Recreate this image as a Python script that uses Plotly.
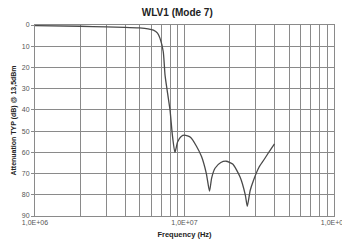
import plotly.graph_objects as go

freq_hz = [1.0e6, 2.0e6, 3.0e6, 4.0e6, 5.0e6, 5.7e6, 6.2e6, 6.6e6, 6.86e6, 7.21e6, 7.41e6,
           7.7e6, 8.0e6, 8.3e6, 8.63e6, 9.0e6, 9.5e6, 1.0e7, 1.1e7, 1.2e7, 1.3e7, 1.4e7,
           1.47e7, 1.52e7, 1.6e7, 1.75e7, 1.9e7, 2.1e7, 2.35e7, 2.55e7, 2.63e7, 2.75e7,
           2.9e7, 3.15e7, 3.4e7, 3.7e7, 4.0e7]
atten_db = [0.3, 0.6, 0.9, 1.1, 1.4, 1.8, 2.4, 3.8, 6.3, 12.6, 23.6,
            32.0, 40.0, 52.0, 60.0, 55.0, 52.5, 51.9, 53.0, 57.0, 62.0, 70.0,
            78.3, 72.0, 67.5, 64.8, 64.2, 65.5, 71.5, 80.0, 85.4, 78.0,
            73.0, 67.0, 63.5, 59.5, 56.0]

grid_freqs = [m * 10 ** e for e in (6, 7) for m in range(1, 10)] + [1e8]
grid_labels = ["1,0E+06" if f == 1e6 else "1,0E+07" if f == 1e7 else "1,0E+08" if f == 1e8 else ""
               for f in grid_freqs]
y_ticks = [0, 10, 20, 30, 40, 50, 60, 70, 80, 90]

fig = go.Figure()
fig.add_trace(go.Scatter(x=freq_hz, y=atten_db, mode="lines",
                         line=dict(color="#4a4a4a", width=1.3, shape="spline", smoothing=0.6),
                         showlegend=False))

font = "Liberation Sans, Arial, sans-serif"
# page body has an 8px default margin, so the figure is sized/offset to compensate
fig.update_layout(
    width=342, height=241,
    margin=dict(l=27, r=16, t=17, b=33),
    paper_bgcolor="white", plot_bgcolor="white",
    title=dict(text="<b>WLV1 (Mode 7)</b>", x=0.495, xanchor="center", y=0.983, yanchor="middle",
               font=dict(family=font, size=10, color="#222")),
    font=dict(family=font, size=8, color="#333"),
)
fig.update_xaxes(type="log", range=[6, 8], tickvals=grid_freqs, ticktext=grid_labels,
                 showgrid=True, gridcolor="#8a8a8a", gridwidth=1, automargin=False,
                 showline=True, linecolor="#8a8a8a", mirror=True,
                 ticks="", tickfont=dict(size=7, color="#555"), ticklabeloverflow="allow",
                 title=dict(text="<b>Frequency (Hz)</b>", font=dict(size=7.5, color="#222"), standoff=6))
fig.update_yaxes(range=[90, 0], tickvals=y_ticks, automargin=False,
                 showgrid=True, gridcolor="#8a8a8a", gridwidth=1,
                 showline=True, linecolor="#8a8a8a", mirror=True,
                 ticks="outside", ticklen=3, tickcolor="#8a8a8a",
                 tickfont=dict(size=7, color="#555"),
                 title=dict(text="<b>Attenuation TYP (dB) @ 13,5dBm</b>", font=dict(size=7, color="#222"), standoff=4))

fig.write_html("out.html")
